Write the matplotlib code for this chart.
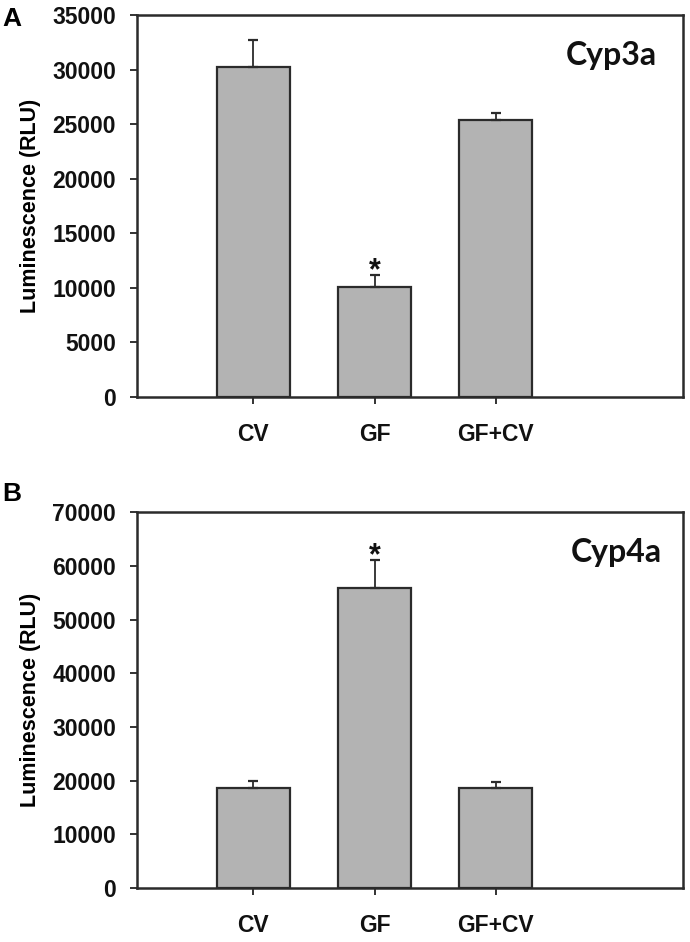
import numpy as np
import matplotlib
matplotlib.use("Agg")
import matplotlib.pyplot as plt

# Luminescence assay, two panels (Cyp3a / Cyp4a)
groups = ["CV", "GF", "GF+CV"]

cyp3a_mean = [30200, 10100, 25400]
cyp3a_err = [2500, 1050, 600]
cyp3a_star = [False, True, False]

cyp4a_mean = [18700, 55900, 18600]
cyp4a_err = [1300, 5200, 1200]
cyp4a_star = [False, True, False]

plt.rcParams['font.family'] = ['Liberation Sans', 'DejaVu Sans']
plt.rcParams['font.weight'] = 'bold'

bar_color = '#b3b3b3'
edge = '#2b2b2b'

fig = plt.figure(figsize=(6.9, 9.42), dpi=100)
axA = fig.add_axes([0.1986, 0.5789, 0.7913, 0.4052])
axB = fig.add_axes([0.1986, 0.0573, 0.7913, 0.3988])


def panel(ax, means, errs, stars, ymax, step, name, name_x):
    x = np.arange(1, len(means) + 1)
    ax.bar(x, means, width=0.6, color=bar_color, edgecolor=edge, linewidth=1.6, zorder=2)
    ax.errorbar(x, means, yerr=[np.zeros(len(errs)), errs], fmt='none',
                ecolor=edge, elinewidth=1.3, capsize=3.5, capthick=1.6, zorder=3)
    for xi, m, e, s in zip(x, means, errs, stars):
        if s:
            ax.annotate("*", xy=(xi, m + e), xytext=(0, -3), textcoords='offset points',
                        ha='center', va='baseline', fontsize=22, fontweight='bold',
                        color='#111111')
    ax.set_xlim(0.041, 4.545)
    ax.set_ylim(0, ymax)
    ax.set_yticks(np.arange(0, ymax + 1, step))
    ax.set_xticks(x)
    ax.set_xticklabels(groups)
    ax.tick_params(axis='y', direction='out', length=5, width=1.2, labelsize=16.5,
                   pad=10, colors='#111111')
    ax.tick_params(axis='x', direction='out', length=5, width=1.2, labelsize=16.5,
                   pad=14, colors='#111111')
    for sp in ax.spines.values():
        sp.set_linewidth(1.8)
        sp.set_color('#2b2b2b')
    ax.set_ylabel("Luminescence (RLU)", fontsize=15.5, fontweight='bold', labelpad=8)
    ax.text(name_x, 0.893, name, transform=ax.transAxes, ha='right', va='center',
            fontsize=23, fontweight='bold', family=['Lato', 'DejaVu Sans'], color='#111111')


panel(axA, cyp3a_mean, cyp3a_err, cyp3a_star, 35000, 5000, "Cyp3a", 0.952)
panel(axB, cyp4a_mean, cyp4a_err, cyp4a_star, 70000, 10000, "Cyp4a", 0.961)

fig.text(0.003, 1 - 7 / 942, "A", ha='left', va='top', fontsize=19, fontweight='bold')
fig.text(0.003, 1 - 482 / 942, "B", ha='left', va='top', fontsize=19, fontweight='bold')

fig.savefig("out.png", dpi=100)
